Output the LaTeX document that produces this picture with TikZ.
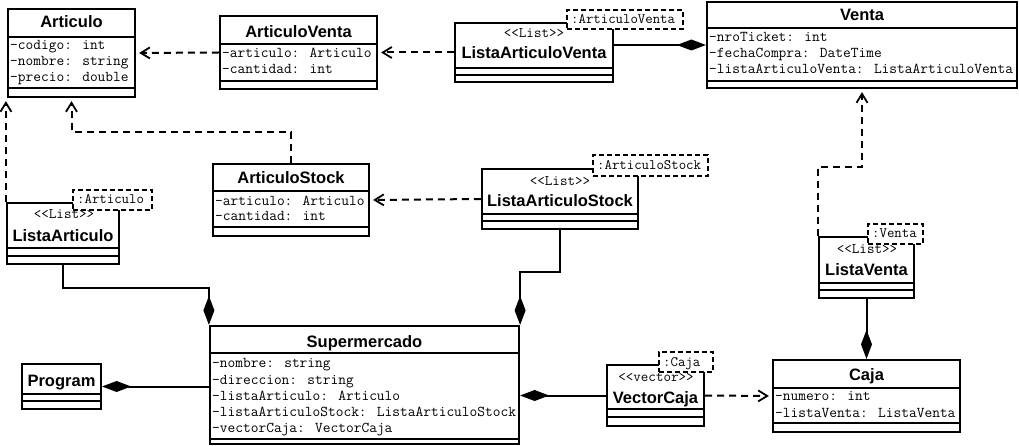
\documentclass[tikz,border=0pt]{standalone}
\usepackage{fontspec}
\setmainfont{Liberation Sans}
\usetikzlibrary{arrows.meta}

\begin{document}
\begin{tikzpicture}[x=1pt,y=-1pt]
	 \tikzstyle{class box}=[draw,line width=2.2pt,fill=white,inner sep=0pt]
	 \tikzstyle{template box}=[draw,line width=1.8pt,dash pattern=on 5pt off 3pt,fill=white,inner sep=0pt]
	 \tikzstyle{class name}=[inner sep=0pt,text height=12pt,text depth=0pt,font=\fontsize{16.5}{18}\selectfont\bfseries]
	 \tikzstyle{stereotype}=[inner sep=0pt,text height=7pt,text depth=0pt,font=\fontsize{14.6}{15}\selectfont\ttfamily]
	 \tikzstyle{attribute}=[inner sep=0pt,anchor=west,text height=7pt,text depth=0pt,font=\fontsize{15}{16}\selectfont\ttfamily]
	 \tikzstyle{param}=[attribute,font=\fontsize{14.4}{15}\selectfont\ttfamily]
	 \tikzstyle{divider}=[draw,line width=1.8pt]
	 \tikzstyle{dependency}=[draw,line width=2pt,dash pattern=on 7pt off 5pt,-{Straight Barb[length=9pt,width=11pt,line width=1.8pt]},shorten >=3pt]
	 \tikzstyle{composition}=[draw,line width=2pt,-{Diamond[length=29pt,width=11pt]}]

	 \useasboundingbox (0,0) rectangle (1019,446);

	 % classes
	 \node[class box,minimum width=127pt,minimum height=88pt] (articulo) at (71.5,53) {};
	 \node[class name] (articulo-name) at (71.5,22) {Articulo};
	 \draw[divider] (articulo.west |- 0,37) -- (articulo.east |- 0,37);
	 \draw[divider] (articulo.west |- 0,88) -- (articulo.east |- 0,88);
	 \node[attribute] (articulo-a1) at (10,46) {-codigo: int};
	 \node[attribute] (articulo-a2) at (10,62) {-nombre: string};
	 \node[attribute] (articulo-a3) at (10,78) {-precio: double};

	 \node[class box,minimum width=157pt,minimum height=73pt] (articuloVenta) at (298.5,52.5) {};
	 \node[class name] (articuloVenta-name) at (298.5,32) {ArticuloVenta};
	 \draw[divider] (articuloVenta.west |- 0,44) -- (articuloVenta.east |- 0,44);
	 \draw[divider] (articuloVenta.west |- 0,81) -- (articuloVenta.east |- 0,81);
	 \node[attribute] (articuloVenta-a1) at (222,54) {-articulo: Articulo};
	 \node[attribute] (articuloVenta-a2) at (222,70) {-cantidad: int};

	 \node[class box,minimum width=158pt,minimum height=59pt] (listaArticuloVenta) at (534,52.5) {};
	 \node[stereotype] (listaArticuloVenta-st) at (534,34) {<{}<List>{}>};
	 \node[class name] (listaArticuloVenta-name) at (534,53) {ListaArticuloVenta};
	 \draw[divider] (listaArticuloVenta.west |- 0,68) -- (listaArticuloVenta.east |- 0,68);
	 \draw[divider] (listaArticuloVenta.west |- 0,75) -- (listaArticuloVenta.east |- 0,75);

	 \node[class box,minimum width=310pt,minimum height=86pt] (venta) at (862,45) {};
	 \node[class name] (venta-name) at (862,15) {Venta};
	 \draw[divider] (venta.west |- 0,28) -- (venta.east |- 0,28);
	 \draw[divider] (venta.west |- 0,81) -- (venta.east |- 0,81);
	 \node[attribute] (venta-a1) at (709,38) {-nroTicket: int};
	 \node[attribute] (venta-a2) at (709,54) {-fechaCompra: DateTime};
	 \node[attribute] (venta-a3) at (709,70) {-listaArticuloVenta: ListaArticuloVenta};

	 \node[class box,minimum width=156pt,minimum height=72pt] (articuloStock) at (291,200) {};
	 \node[class name] (articuloStock-name) at (291,178) {ArticuloStock};
	 \draw[divider] (articuloStock.west |- 0,191) -- (articuloStock.east |- 0,191);
	 \draw[divider] (articuloStock.west |- 0,227) -- (articuloStock.east |- 0,227);
	 \node[attribute] (articuloStock-a1) at (215,202) {-articulo: Articulo};
	 \node[attribute] (articuloStock-a2) at (215,217) {-cantidad: int};

	 \node[class box,minimum width=156pt,minimum height=60pt] (listaArticuloStock) at (560,199) {};
	 \node[stereotype] (listaArticuloStock-st) at (560,182) {<{}<List>{}>};
	 \node[class name] (listaArticuloStock-name) at (560,201) {ListaArticuloStock};
	 \draw[divider] (listaArticuloStock.west |- 0,214) -- (listaArticuloStock.east |- 0,214);
	 \draw[divider] (listaArticuloStock.west |- 0,221) -- (listaArticuloStock.east |- 0,221);

	 \node[class box,minimum width=112pt,minimum height=61pt] (listaArticulo) at (63,233.5) {};
	 \node[stereotype] (listaArticulo-st) at (64,215) {<{}<List>{}>};
	 \node[class name] (listaArticulo-name) at (63,235) {ListaArticulo};
	 \draw[divider] (listaArticulo.west |- 0,248) -- (listaArticulo.east |- 0,248);
	 \draw[divider] (listaArticulo.west |- 0,256) -- (listaArticulo.east |- 0,256);

	 \node[class box,minimum width=95pt,minimum height=61pt] (listaVenta) at (866.5,267.5) {};
	 \node[stereotype] (listaVenta-st) at (867,250) {<{}<List>{}>};
	 \node[class name] (listaVenta-name) at (866.5,270) {ListaVenta};
	 \draw[divider] (listaVenta.west |- 0,283) -- (listaVenta.east |- 0,283);
	 \draw[divider] (listaVenta.west |- 0,290) -- (listaVenta.east |- 0,290);

	 \node[class box,minimum width=309pt,minimum height=118pt] (supermercado) at (364.5,385) {};
	 \node[class name] (supermercado-name) at (364.5,341) {Supermercado};
	 \draw[divider] (supermercado.west |- 0,353) -- (supermercado.east |- 0,353);
	 \draw[divider] (supermercado.west |- 0,439) -- (supermercado.east |- 0,439);
	 \node[attribute] (supermercado-a1) at (212,364) {-nombre: string};
	 \node[attribute] (supermercado-a2) at (212,380.5) {-direccion: string};
	 \node[attribute] (supermercado-a3) at (212,397) {-listaArticulo: Articulo};
	 \node[attribute] (supermercado-a4) at (212,413) {-listaArticuloStock: ListaArticuloStock};
	 \node[attribute] (supermercado-a5) at (212,429) {-vectorCaja: VectorCaja};

	 \node[class box,minimum width=79pt,minimum height=45pt] (program) at (61.5,386.5) {};
	 \node[class name] (program-name) at (61.5,380) {Program};
	 \draw[divider] (program.west |- 0,394) -- (program.east |- 0,394);
	 \draw[divider] (program.west |- 0,401) -- (program.east |- 0,401);

	 \node[class box,minimum width=97pt,minimum height=61pt] (vectorCaja) at (655.5,395.5) {};
	 \node[stereotype] (vectorCaja-st) at (656,378) {<{}<vector>{}>};
	 \node[class name] (vectorCaja-name) at (655.5,397) {VectorCaja};
	 \draw[divider] (vectorCaja.west |- 0,409) -- (vectorCaja.east |- 0,409);
	 \draw[divider] (vectorCaja.west |- 0,417) -- (vectorCaja.east |- 0,417);

	 \node[class box,minimum width=187pt,minimum height=72pt] (caja) at (866.5,396) {};
	 \node[class name] (caja-name) at (866.5,374) {Caja};
	 \draw[divider] (caja.west |- 0,388) -- (caja.east |- 0,388);
	 \draw[divider] (caja.west |- 0,423) -- (caja.east |- 0,423);
	 \node[attribute] (caja-a1) at (775,397) {-numero: int};
	 \node[attribute] (caja-a2) at (775,414) {-listaVenta: ListaVenta};

	 % template parameters
	 \node[template box,minimum width=116pt,minimum height=19pt] (tplArticuloVenta) at (625,19.5) {};
	 \node[param] (tplArticuloVenta-t) at (571,20) {:ArticuloVenta};
	 \node[template box,minimum width=115pt,minimum height=21pt] (tplArticuloStock) at (650.5,165.5) {};
	 \node[param] (tplArticuloStock-t) at (597,166) {:ArticuloStock};
	 \node[template box,minimum width=79pt,minimum height=20pt] (tplArticulo) at (112.5,200) {};
	 \node[param] (tplArticulo-t) at (77,200.5) {:Articulo};
	 \node[template box,minimum width=55pt,minimum height=20pt] (tplVenta) at (895.5,234) {};
	 \node[param] (tplVenta-t) at (872,234.5) {:Venta};
	 \node[template box,minimum width=54pt,minimum height=20pt] (tplCaja) at (686,362) {};
	 \node[param] (tplCaja-t) at (663,362.5) {:Caja};

	 % relations
	 \draw[dependency] (articuloVenta.west) -- (articulo.east);
	 \draw[dependency] (listaArticuloVenta.west) -- (articuloVenta.east);
	 \draw[dependency] (listaArticuloStock.west) -- (articuloStock.east);
	 \draw[dependency] (articuloStock.north) -- ++(0,-31) -| (articulo.south);
	 \draw[dependency] (listaArticulo.north west) -- (listaArticulo.north west |- articulo.south);
	 \draw[dependency] (listaVenta.north west) -- ++(0,-69) -| (venta.south);
	 \draw[dependency] (vectorCaja.east) -- (caja.west);
	 \draw[composition] (listaArticuloVenta.east |- venta.west) -- (venta.west);
	 \draw[composition] (listaArticulo.south) -- ++(0,23) -| (supermercado.north west);
	 \draw[composition] (listaArticuloStock.south) -- ++(0,42) -| (supermercado.north east);
	 \draw[composition] (listaVenta.south) -- (caja.north);
	 \draw[composition] (supermercado.west |- program.east) -- (program.east);
	 \draw[composition] (vectorCaja.west) -- (vectorCaja.west -| supermercado.east);
\end{tikzpicture}
\end{document}
